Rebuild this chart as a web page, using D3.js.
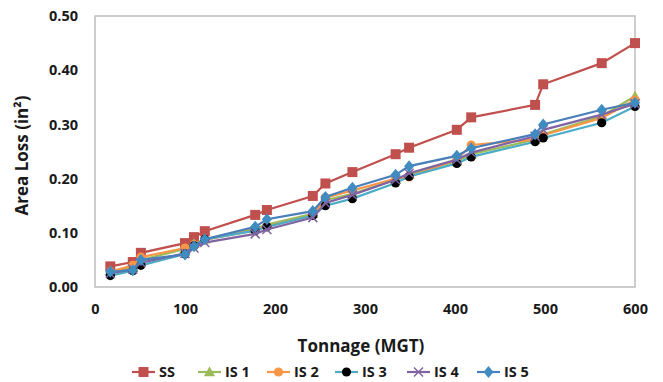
<!DOCTYPE html>
<html>
<head>
<meta charset="utf-8">
<script src="https://cdn.jsdelivr.net/npm/d3@7"></script>
<style>
  body { margin: 0; background: #fff; }
  svg text { font-family: "Open Sans", sans-serif; font-weight: 700; fill: #1a1a1a; }
</style>
</head>
<body>
<div id="chart"></div>
<script>
// tonnage (MGT) at each measurement
const tonnage = [17, 42, 51, 100, 110, 122, 178, 191, 242, 256, 286, 334, 349, 402, 418, 489, 498, 563, 600];

const seriesNames = ["SS", "IS 1", "IS 2", "IS 3", "IS 4", "IS 5"];

const ss  = [0.038, 0.046, 0.063, 0.081, 0.092, 0.103, 0.133, 0.142, 0.168, 0.191, 0.212, 0.245, 0.257, 0.290, 0.313, 0.336, 0.374, 0.413, 0.450];
const is1 = [0.030, 0.036, 0.050, 0.070, 0.080, 0.088, 0.108, 0.115, 0.135, 0.160, 0.172, 0.198, 0.208, 0.232, 0.245, 0.272, 0.282, 0.315, 0.352];
const is2 = [0.028, 0.040, 0.055, 0.072, 0.078, 0.087, 0.105, 0.112, 0.132, 0.165, 0.178, 0.200, 0.203, 0.235, 0.262, 0.272, 0.280, 0.312, 0.345];
const is3 = [0.021, 0.030, 0.040, 0.061, 0.076, 0.088, 0.104, 0.111, 0.132, 0.150, 0.163, 0.192, 0.204, 0.228, 0.240, 0.268, 0.275, 0.303, 0.333];
const is4 = [0.025, 0.033, 0.045, 0.062, 0.072, 0.082, 0.098, 0.106, 0.128, 0.155, 0.170, 0.198, 0.210, 0.235, 0.248, 0.278, 0.290, 0.318, 0.338];
const is5 = [0.028, 0.031, 0.050, 0.060, 0.075, 0.088, 0.111, 0.125, 0.140, 0.166, 0.183, 0.207, 0.223, 0.242, 0.256, 0.282, 0.300, 0.327, 0.340];

const xTicks = [0, 100, 200, 300, 400, 500, 600];
const yTicks = [0, 0.1, 0.2, 0.3, 0.4, 0.5];

const width = 663, height = 382;
const margin = { top: 16, right: 28, bottom: 95, left: 95 };

const styles = [
  { line: "#C0504D", fill: "#C0504D", shape: "square" },
  { line: "#9BBB59", fill: "#9BBB59", shape: "triangle" },
  { line: "#F79646", fill: "#F79646", shape: "circle" },
  { line: "#4BACC6", fill: "#000000", shape: "circle" },
  { line: "#8064A2", fill: "#8064A2", shape: "x" },
  { line: "#4A7EBB", fill: "#3F8DC0", shape: "diamond" }
];

const allValues = [ss, is1, is2, is3, is4, is5];
const series = seriesNames.map((name, i) => ({
  name,
  style: styles[i],
  points: tonnage.map((t, j) => ({ x: t, y: allValues[i][j] }))
}));

const svg = d3.select("#chart").append("svg")
  .attr("width", width)
  .attr("height", height);

const x = d3.scaleLinear().domain([0, 600]).range([margin.left, width - margin.right]);
const y = d3.scaleLinear().domain([0, 0.5]).range([height - margin.bottom, margin.top]);

// plot border
svg.append("rect")
  .attr("x", x(0)).attr("y", y(0.5))
  .attr("width", x(600) - x(0)).attr("height", y(0) - y(0.5))
  .attr("fill", "none").attr("stroke", "#bdbdbd").attr("stroke-width", 1.5);

// axes (labels only)
const xAxis = svg.append("g")
  .attr("transform", `translate(0,${y(0)})`)
  .call(d3.axisBottom(x).tickValues(xTicks).tickSize(0).tickPadding(17).tickFormat(d3.format("d")));
const yAxis = svg.append("g")
  .attr("transform", `translate(${x(0)},0)`)
  .call(d3.axisLeft(y).tickValues(yTicks).tickSize(0).tickPadding(17).tickFormat(d3.format(".2f")));
[xAxis, yAxis].forEach(a => {
  a.select(".domain").remove();
  a.selectAll("text").style("font-size", "14.5px").attr("fill", "#1a1a1a")
    .style("font-family", "'Open Sans', sans-serif").style("font-weight", 700);
});

svg.append("text")
  .attr("x", (x(0) + x(600)) / 2 - 4).attr("y", 352)
  .attr("text-anchor", "middle").style("font-size", "17px")
  .text("Tonnage (MGT)");

svg.append("text")
  .attr("transform", `translate(28,${(y(0) + y(0.5)) / 2 + 4}) rotate(-90)`)
  .attr("text-anchor", "middle").style("font-size", "17px")
  .text("Area Loss (in²)");

function drawMarker(g, shape, cx, cy, fill) {
  if (shape === "square") {
    g.append("rect").attr("x", cx - 5).attr("y", cy - 5).attr("width", 10).attr("height", 10).attr("fill", fill);
  } else if (shape === "triangle") {
    g.append("path").attr("d", d3.symbol(d3.symbolTriangle, 55)()).attr("transform", `translate(${cx},${cy + 1})`).attr("fill", fill);
  } else if (shape === "circle") {
    g.append("circle").attr("cx", cx).attr("cy", cy).attr("r", 4.6).attr("fill", fill);
  } else if (shape === "diamond") {
    g.append("path").attr("d", `M${cx},${cy - 6}L${cx + 5},${cy}L${cx},${cy + 6}L${cx - 5},${cy}Z`).attr("fill", fill);
  } else if (shape === "x") {
    g.append("path").attr("d", `M${cx - 4.5},${cy - 4.5}L${cx + 4.5},${cy + 4.5}M${cx - 4.5},${cy + 4.5}L${cx + 4.5},${cy - 4.5}`)
      .attr("stroke", fill).attr("stroke-width", 1.5).attr("fill", "none");
  }
}

const line = d3.line().x(d => x(d.x)).y(d => y(d.y));

series.forEach(s => {
  const g = svg.append("g");
  g.append("path").datum(s.points)
    .attr("d", line).attr("fill", "none")
    .attr("stroke", s.style.line).attr("stroke-width", 2.2);
  s.points.forEach(p => drawMarker(g, s.style.shape, x(p.x), y(p.y), s.style.fill));
});

// legend
const legendX = [132, 198, 267, 335, 407, 477];
series.forEach((s, i) => {
  const g = svg.append("g");
  const lx = legendX[i], ly = 372;
  g.append("line").attr("x1", lx).attr("x2", lx + 23).attr("y1", ly).attr("y2", ly)
    .attr("stroke", s.style.line).attr("stroke-width", 2.2);
  drawMarker(g, s.style.shape, lx + 11.5, ly, s.style.fill);
  g.append("text").attr("x", lx + 27).attr("y", ly + 5).style("font-size", "14.5px").text(s.name);
});
</script>
</body>
</html>
